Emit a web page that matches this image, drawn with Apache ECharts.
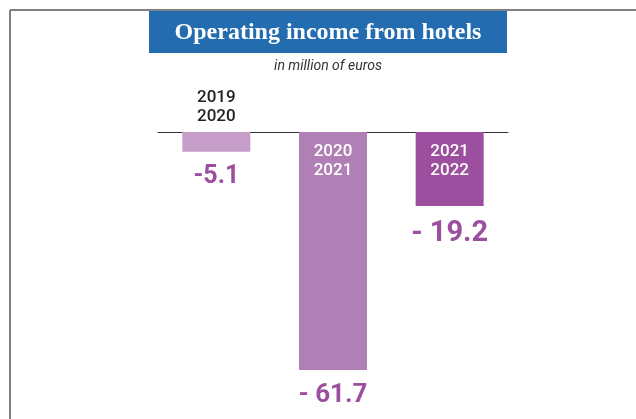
<!DOCTYPE html>
<html>
<head>
<meta charset="utf-8">
<script src="https://cdn.jsdelivr.net/npm/echarts@6/dist/echarts.min.js"></script>
<style>
  html, body { margin: 0; padding: 0; background: #fff; }
  #chart { width: 636px; height: 419px; }
</style>
</head>
<body>
<div id="chart"></div>
<script>
// Fiscal periods and operating income from hotels (million euros)
const periods = ['2019\n2020', '2020\n2021', '2021\n2022'];
const income = [-5.1, -61.7, -19.2];
const valueTexts = ['-5.1', '- 61.7', '- 19.2'];
const barColors = ['#C69DC9', '#B07FB6', '#9B4F9E'];

const sans = "Roboto, 'Liberation Sans', sans-serif";
const valueSizes = [25, 26, 29];

const chart = echarts.init(document.getElementById('chart'), null, { renderer: 'canvas' });

chart.setOption({
  animation: false,
  backgroundColor: '#ffffff',
  grid: { left: 158, top: 132, width: 350, height: 270, containLabel: false },
  xAxis: {
    type: 'category',
    position: 'top',
    data: periods,
    axisLine: { show: true, lineStyle: { color: '#333', width: 1 } },
    axisTick: { show: false },
    axisLabel: { show: false }
  },
  yAxis: {
    type: 'value',
    min: -70,
    max: 0,
    show: false
  },
  series: [
    {
      type: 'bar',
      barWidth: 68,
      data: income.map((v, i) => ({
        value: v,
        itemStyle: { color: barColors[i] },
        label: { formatter: valueTexts[i], fontSize: valueSizes[i] }
      })),
      label: {
        show: true,
        position: 'bottom',
        distance: 13,
        color: '#9B4F9E',
        fontFamily: sans,
        fontWeight: 'bold'
      }
    },
    {
      type: 'bar',
      barWidth: 68,
      barGap: '-100%',
      z: 5,
      data: income.map((v, i) => ({
        value: v,
        itemStyle: { color: 'transparent' },
        label: i === 0
          ? { position: 'top', distance: 6, color: '#222' }
          : { position: 'insideTop', distance: 10, color: '#ffffff' }
      })),
      label: {
        show: true,
        formatter: (p) => periods[p.dataIndex],
        fontFamily: sans,
        fontWeight: 500,
        fontSize: 17,
        lineHeight: 19
      }
    }
  ],
  graphic: [
    // frame lines
    { type: 'line', shape: { x1: 10, y1: 10, x2: 636, y2: 10 }, style: { stroke: '#808080', lineWidth: 2 } },
    { type: 'line', shape: { x1: 10, y1: 10, x2: 10, y2: 419 }, style: { stroke: '#808080', lineWidth: 2 } },
    // title banner
    { type: 'rect', shape: { x: 149, y: 11, width: 358, height: 42 }, style: { fill: '#236CB0' } },
    {
      type: 'text', x: 328, y: 33,
      style: {
        text: 'Operating income from hotels',
        fill: '#ffffff',
        font: "bold 24px 'Liberation Serif', 'DejaVu Serif', serif",
        align: 'center', verticalAlign: 'middle'
      }
    },
    {
      type: 'text', x: 328, y: 66,
      style: {
        text: 'in million of euros',
        fill: '#333333',
        font: "italic 14px " + sans,
        align: 'center', verticalAlign: 'middle'
      }
    }
  ]
});
</script>
</body>
</html>
